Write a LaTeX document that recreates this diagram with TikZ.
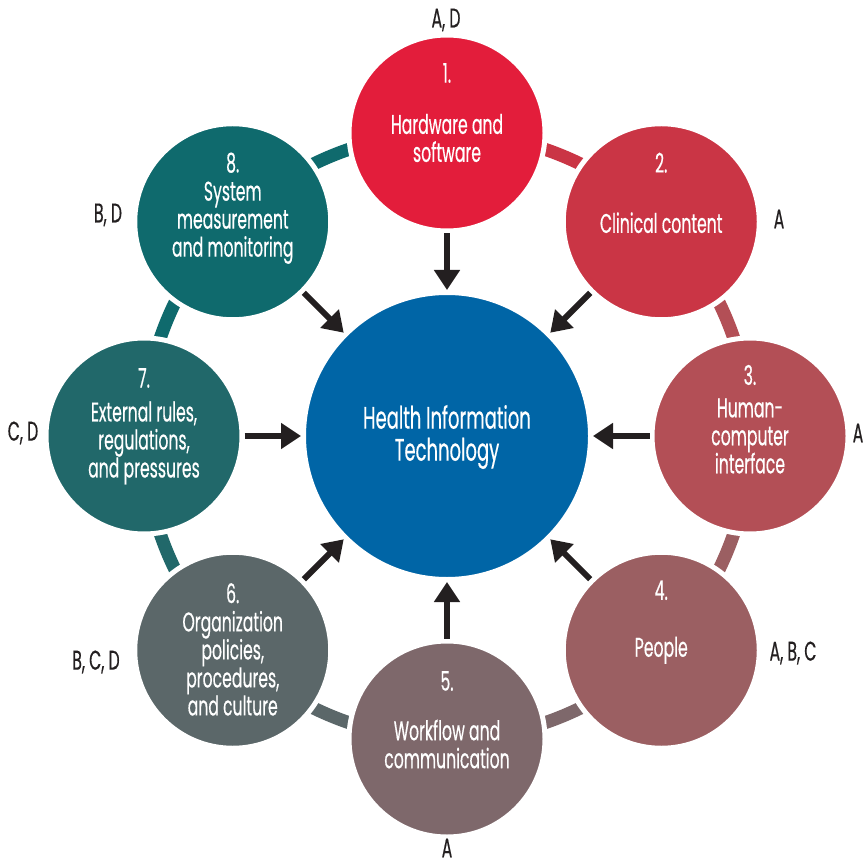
\documentclass[tikz,border=0pt]{standalone}
\usepackage{fontspec}
\setmainfont{Poppins}[FakeStretch=0.58, FakeBold=0.4]
\usetikzlibrary{arrows.meta,positioning,calc}
\definecolor{hitblue}{HTML}{0065A6}
\definecolor{fone}{HTML}{E31D3B}
\definecolor{ftwo}{HTML}{CA3545}
\definecolor{fthree}{HTML}{B34F56}
\definecolor{ffour}{HTML}{9B5F62}
\definecolor{ffive}{HTML}{7E686B}
\definecolor{fsix}{HTML}{5B6769}
\definecolor{fseven}{HTML}{21686A}
\definecolor{feight}{HTML}{0F6A6D}
\definecolor{inkdark}{HTML}{231F20}
\tikzset{
  factor/.style={circle, draw=white, line width=5pt, minimum size=196pt, inner sep=0pt},
  hitbox/.style={circle, draw=white, line width=5pt, fill=hitblue, minimum size=287pt, inner sep=0pt},
  numtxt/.style={text=white, inner sep=0pt, font=\fontsize{27}{28}\selectfont},
  bodytxt/.style={text=white, align=center, inner sep=0pt, font=\fontsize{27}{28}\selectfont},
  hittxt/.style={text=white, align=center, inner sep=0pt, font=\fontsize{31}{32}\selectfont},
  lettxt/.style={text=inkdark, inner sep=0pt, font=\fontsize{27}{28}\selectfont},
  ring/.style={line width=13pt},
  arr/.style={-{Triangle[length=20pt,width=25pt]}, line width=6pt, draw=inkdark}}

\begin{document}
\begin{tikzpicture}[x=1pt, y=1pt]
  \useasboundingbox[fill=white] (0,0) rectangle (866,863);
  \coordinate (o) at (447,427);

  % ring pieces between the factors
  \draw[ring, draw=ftwo]   ($(o)+(90:303)$)   arc[start angle=90,   end angle=45,   radius=303];
  \draw[ring, draw=fthree] ($(o)+(45:303)$)   arc[start angle=45,   end angle=0,    radius=303];
  \draw[ring, draw=ffour]  ($(o)+(0:303)$)    arc[start angle=0,    end angle=-45,  radius=303];
  \draw[ring, draw=ffive]  ($(o)+(-45:303)$)  arc[start angle=-45,  end angle=-90,  radius=303];
  \draw[ring, draw=fsix]   ($(o)+(-90:303)$)  arc[start angle=-90,  end angle=-135, radius=303];
  \draw[ring, draw=fseven] ($(o)+(-135:303)$) arc[start angle=-135, end angle=-180, radius=303];
  \draw[ring, draw=feight] ($(o)+(180:303)$)  arc[start angle=180,  end angle=135,  radius=303];
  \draw[ring, draw=feight] ($(o)+(135:303)$)  arc[start angle=135,  end angle=90,   radius=303];

  % the eight factors
  \node[factor, fill=fone]   (f1) at ($(o)+(90:303)$)   {};
  \node[factor, fill=ftwo]   (f2) at ($(o)+(45:303)$)   {};
  \node[factor, fill=fthree] (f3) at ($(o)+(0:303)$)    {};
  \node[factor, fill=ffour]  (f4) at ($(o)+(-45:303)$)  {};
  \node[factor, fill=ffive]  (f5) at ($(o)+(-90:303)$)  {};
  \node[factor, fill=fsix]   (f6) at ($(o)+(-135:303)$) {};
  \node[factor, fill=fseven] (f7) at ($(o)+(180:303)$)  {};
  \node[factor, fill=feight] (f8) at ($(o)+(135:303)$)  {};

  \node[numtxt] (f1n) at ([yshift=60pt]f1.center) {1.};
  \node[bodytxt] (f1t) at ([yshift=-5pt]f1.center) {Hardware and\\software};
  \node[numtxt] (f2n) at ([yshift=59pt]f2.center) {2.};
  \node[bodytxt] (f2t) at ([yshift=-1pt]f2.center) {Clinical content};
  \node[numtxt] (f3n) at ([yshift=61pt]f3.center) {3.};
  \node[bodytxt] (f3t) at (f3.center) {Human-\\computer\\interface};
  \node[numtxt] (f4n) at ([yshift=60pt]f4.center) {4.};
  \node[bodytxt] (f4t) at (f4.center) {People};
  \node[numtxt] (f5n) at ([yshift=58pt]f5.center) {5.};
  \node[bodytxt] (f5t) at ([yshift=-5pt]f5.center) {Workflow and\\communication};
  \node[numtxt] (f6n) at ([yshift=57pt]f6.center) {6.};
  \node[bodytxt] (f6t) at ([yshift=-13pt]f6.center) {Organization\\policies,\\procedures,\\and culture};
  \node[numtxt] (f7n) at ([yshift=58pt]f7.center) {7.};
  \node[bodytxt] (f7t) at ([yshift=-7pt]f7.center) {External rules,\\regulations,\\and pressures};
  \node[numtxt] (f8n) at ([yshift=59pt]f8.center) {8.};
  \node[bodytxt] (f8t) at ([yshift=-1pt]f8.center) {System\\measurement\\and monitoring};

  % the hub
  \node[hitbox] (hit) at (o) {};
  \node[hittxt] (hitt) at ([yshift=-1pt]hit.center) {Health Information\\Technology};

  \foreach \f in {f1,f2,f3,f4,f5,f6,f7,f8}
    \draw[arr] (\f) -- (hit);

  % letters
  \node[lettxt] (l1) at (446,843) {A, D};
  \node[lettxt] (l2) at (779,644) {A};
  \node[lettxt] (l3) at (858,430) {A};
  \node[lettxt] (l4) at (793,210) {A, B, C};
  \node[lettxt] (l5) at (447,15) {A};
  \node[lettxt] (l6) at (96,201) {B, C, D};
  \node[lettxt] (l7) at (23,430) {C, D};
  \node[lettxt] (l8) at (108,648) {B, D};
\end{tikzpicture}
\end{document}
